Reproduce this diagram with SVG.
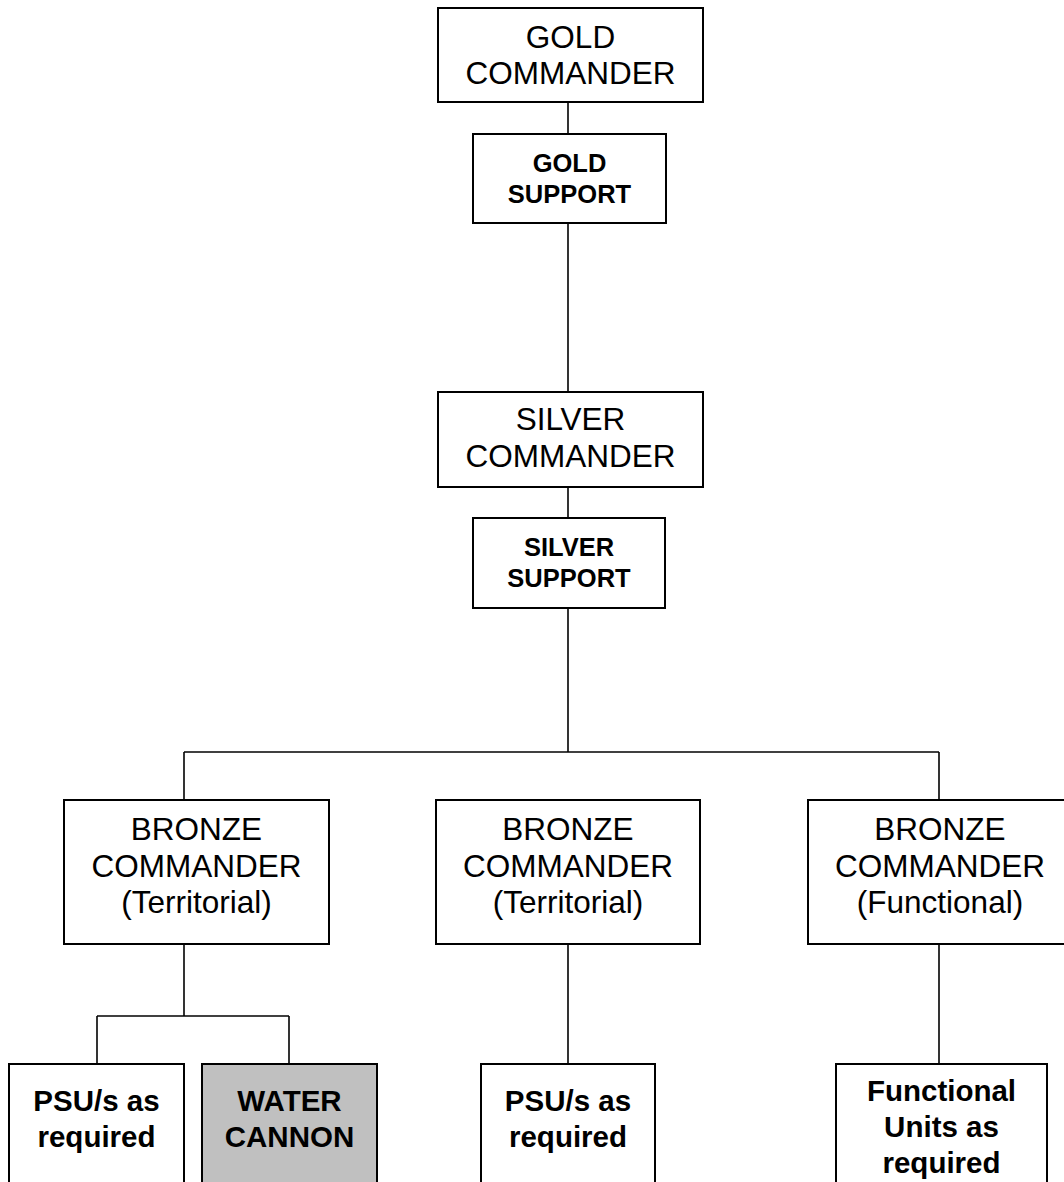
<svg xmlns="http://www.w3.org/2000/svg" width="1064" height="1182" viewBox="0 0 1064 1182">
<style>
.box{fill:#fff;stroke:#000;stroke-width:2}
.grey{fill:#c0c0c0}
.conn line{stroke:#000;stroke-width:1.6}
text{font-family:"Liberation Sans",Arial,sans-serif;fill:#000;text-anchor:middle}
.cmd{font-size:31.5px}
.sup{font-size:25.5px;font-weight:bold}
.unit{font-size:29.5px;font-weight:bold}
</style>
<rect width="1064" height="1182" fill="#fff"/>
<g class="conn" id="connectors">
<line x1="568" y1="102" x2="568" y2="134"/>
<line x1="568" y1="223" x2="568" y2="392"/>
<line x1="568" y1="487" x2="568" y2="518"/>
<line x1="568" y1="608" x2="568" y2="752"/>
<line x1="184" y1="752" x2="939" y2="752"/>
<line x1="184" y1="752" x2="184" y2="800"/>
<line x1="939" y1="752" x2="939" y2="800"/>
<line x1="184" y1="944" x2="184" y2="1016"/>
<line x1="97" y1="1016" x2="289" y2="1016"/>
<line x1="97" y1="1016" x2="97" y2="1064"/>
<line x1="289" y1="1016" x2="289" y2="1064"/>
<line x1="568" y1="944" x2="568" y2="1064"/>
<line x1="939" y1="944" x2="939" y2="1064"/>
</g>
<g id="gold-commander">
<rect class="box" x="438" y="8" width="265" height="94"/>
<text class="cmd" x="570.5" y="48">GOLD</text>
<text class="cmd" x="570.5" y="84">COMMANDER</text>
</g>
<g id="gold-support">
<rect class="box" x="473" y="134" width="193" height="89"/>
<text class="sup" x="569.5" y="172">GOLD</text>
<text class="sup" x="569.5" y="203">SUPPORT</text>
</g>
<g id="silver-commander">
<rect class="box" x="438" y="392" width="265" height="95"/>
<text class="cmd" x="570.5" y="430">SILVER</text>
<text class="cmd" x="570.5" y="467">COMMANDER</text>
</g>
<g id="silver-support">
<rect class="box" x="473" y="518" width="192" height="90"/>
<text class="sup" x="569" y="556">SILVER</text>
<text class="sup" x="569" y="587">SUPPORT</text>
</g>
<g id="bronze-territorial-1">
<rect class="box" x="64" y="800" width="265" height="144"/>
<text class="cmd" x="196.5" y="840">BRONZE</text>
<text class="cmd" x="196.5" y="877">COMMANDER</text>
<text class="cmd" x="196.5" y="913">(Territorial)</text>
</g>
<g id="bronze-territorial-2">
<rect class="box" x="436" y="800" width="264" height="144"/>
<text class="cmd" x="568" y="840">BRONZE</text>
<text class="cmd" x="568" y="877">COMMANDER</text>
<text class="cmd" x="568" y="913">(Territorial)</text>
</g>
<g id="bronze-functional">
<rect class="box" x="808" y="800" width="264" height="144"/>
<text class="cmd" x="940" y="840">BRONZE</text>
<text class="cmd" x="940" y="877">COMMANDER</text>
<text class="cmd" x="940" y="913">(Functional)</text>
</g>
<g id="psu-1">
<rect class="box" x="9" y="1064" width="175" height="130"/>
<text class="unit" x="96.5" y="1111">PSU/s as</text>
<text class="unit" x="96.5" y="1147">required</text>
</g>
<g id="water-cannon">
<rect class="box grey" x="202" y="1064" width="175" height="130"/>
<text class="unit" x="289.5" y="1111">WATER</text>
<text class="unit" x="289.5" y="1147">CANNON</text>
</g>
<g id="psu-2">
<rect class="box" x="481" y="1064" width="174" height="130"/>
<text class="unit" x="568" y="1111">PSU/s as</text>
<text class="unit" x="568" y="1147">required</text>
</g>
<g id="functional-units">
<rect class="box" x="836" y="1064" width="211" height="130"/>
<text class="unit" x="941.5" y="1101">Functional</text>
<text class="unit" x="941.5" y="1137">Units as</text>
<text class="unit" x="941.5" y="1173">required</text>
</g>
</svg>
